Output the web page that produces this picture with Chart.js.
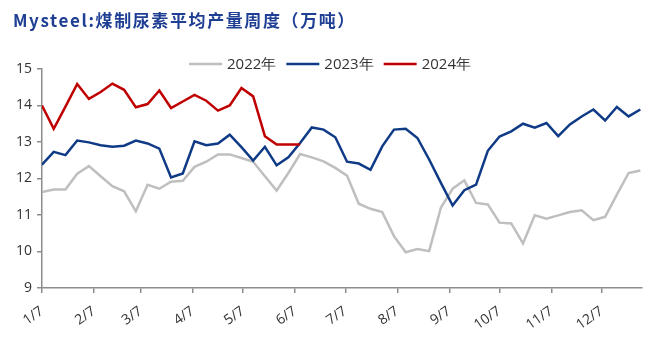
<!DOCTYPE html>
<html>
<head>
<meta charset="utf-8">
<script src="https://cdn.jsdelivr.net/npm/chart.js@4"></script>
<style>
  body { margin: 0; background: #fff; }
  #wrap { position: relative; width: 660px; height: 352px; }
  #title {
    position: absolute; left: 13px; top: 7px;
    font: bold 17px "Noto Sans CJK SC", sans-serif;
    letter-spacing: 1.6px; color: #1f3f94; white-space: nowrap;
  }
</style>
</head>
<body>
<div id="wrap">
  <div id="title">Mysteel:煤制尿素平均产量周度（万吨）</div>
  <canvas id="chart" width="660" height="352"></canvas>
</div>
<script>
// weekly values
const y2022 = [11.63, 11.70, 11.70, 12.13, 12.34, 12.06, 11.79, 11.65, 11.10, 11.83, 11.72, 11.91, 11.94,
  12.32, 12.46, 12.66, 12.66, 12.56, 12.46, 12.06, 11.67, 12.15, 12.67, 12.58, 12.47, 12.29,
  12.08, 11.31, 11.17, 11.08, 10.42, 9.98, 10.07, 10.01, 11.20, 11.72, 11.95, 11.33, 11.29,
  10.79, 10.77, 10.22, 10.99, 10.90, 10.99, 11.08, 11.13, 10.86, 10.95, 11.56, 12.15, 12.22];
const y2023 = [12.38, 12.73, 12.64, 13.04, 12.99, 12.91, 12.87, 12.90, 13.04, 12.96, 12.82, 12.03, 12.14,
  13.02, 12.91, 12.96, 13.20, 12.86, 12.49, 12.87, 12.36, 12.58, 12.97, 13.40, 13.34, 13.13,
  12.46, 12.41, 12.24, 12.88, 13.34, 13.36, 13.11, 12.52, 11.88, 11.26, 11.68, 11.83, 12.76,
  13.15, 13.29, 13.50, 13.39, 13.52, 13.16, 13.48, 13.70, 13.89, 13.59, 13.96, 13.70, 13.89];
const y2024 = [14.00, 13.36, 13.97, 14.59, 14.18, 14.37, 14.60, 14.43, 13.95, 14.04, 14.41, 13.93, 14.11,
  14.29, 14.13, 13.86, 14.00, 14.48, 14.25, 13.16, 12.93, 12.93, 12.93];

// days after 1/7 for each week
const weekDays = y2022.map((_, i) => i * 7);
const tickDays = [0, 31, 59, 90, 120, 151, 181, 212, 243, 273, 304, 334];
const tickLabels = ["1/7", "2/7", "3/7", "4/7", "5/7", "6/7", "7/7", "8/7", "9/7", "10/7", "11/7", "12/7"];

const font = '"Open Sans", sans-serif';

// simple legend drawn at the top, centred
const topLegend = {
  id: "topLegend",
  afterDraw(chart) {
    const ctx = chart.ctx;
    ctx.save();
    ctx.font = "15px " + font;
    ctx.textBaseline = "middle";
    const lineW = 33, gap = 5, space = 10;
    const items = chart.data.datasets.map(ds => ({ text: ds.label, color: ds.borderColor, w: ctx.measureText(ds.label).width }));
    const total = items.reduce((s, it) => s + lineW + gap + it.w, 0) + space * (items.length - 1);
    let x = 330 - total / 2;
    const y = 64;
    items.forEach(it => {
      ctx.strokeStyle = it.color;
      ctx.lineWidth = 2.5;
      ctx.beginPath();
      ctx.moveTo(x, y);
      ctx.lineTo(x + lineW, y);
      ctx.stroke();
      x += lineW + gap;
      ctx.fillStyle = "#333";
      ctx.fillText(it.text, x, y + 1);
      x += it.w + space;
    });
    ctx.restore();
  }
};

new Chart(document.getElementById("chart"), {
  type: "line",
  data: {
    labels: weekDays,
    datasets: [
      { label: "2022年", data: y2022, borderColor: "#bfbfbf", order: 2 },
      { label: "2023年", data: y2023, borderColor: "#0f3a86", order: 1 },
      { label: "2024年", data: y2024, borderColor: "#c00000", order: 0 }
    ]
  },
  options: {
    responsive: false,
    animation: false,
    layout: { padding: { top: 69, right: 18, left: 0, bottom: 0 } },
    elements: {
      line: { borderWidth: 2.5, tension: 0 },
      point: { radius: 0 }
    },
    plugins: {
      legend: { display: false },
      tooltip: { enabled: false }
    },
    scales: {
      x: {
        type: "linear",
        min: 0,
        max: 358,
        afterBuildTicks: scale => { scale.ticks = tickDays.map(v => ({ value: v })); },
        afterFit: scale => { scale.height = 64; },
        ticks: {
          autoSkip: false,
          minRotation: 35,
          maxRotation: 35,
          padding: 10,
          color: "#333",
          font: { family: font, size: 14 },
          callback: v => tickLabels[tickDays.indexOf(v)]
        },
        grid: { drawOnChartArea: false, drawTicks: true, tickLength: 5, color: "#8c8c8c", lineWidth: 1.5 },
        border: { color: "#8c8c8c", width: 1.5 }
      },
      y: {
        min: 9,
        max: 15,
        afterFit: scale => { scale.width = 42; },
        ticks: {
          stepSize: 1,
          padding: 5,
          color: "#333",
          font: { family: font, size: 14 }
        },
        grid: { drawOnChartArea: false, drawTicks: true, tickLength: 5, color: "#8c8c8c", lineWidth: 1.5 },
        border: { color: "#8c8c8c", width: 1.5 }
      }
    }
  },
  plugins: [topLegend]
});
</script>
</body>
</html>
